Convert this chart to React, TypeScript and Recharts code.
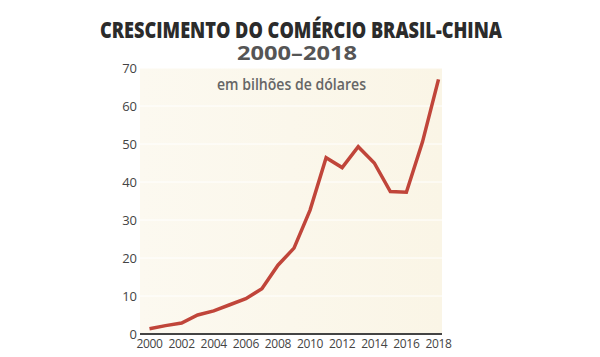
import React from 'react';
import {
  LineChart,
  Line,
  XAxis,
  YAxis,
  CartesianGrid
} from 'recharts';

const years = [
  '2000', '2001', '2002', '2003', '2004', '2005', '2006', '2007', '2008', '2009',
  '2010', '2011', '2012', '2013', '2014', '2015', '2016', '2017', '2018'
];
const trade = [
  1.4, 2.2, 2.9, 5.0, 6.1, 7.7, 9.3, 11.9, 18.1, 22.6,
  32.6, 46.4, 43.8, 49.3, 45.0, 37.5, 37.3, 50.5, 67.0
];
const yTicks = [0, 10, 20, 30, 40, 50, 60, 70];
const xTicks = ['2000', '2002', '2004', '2006', '2008', '2010', '2012', '2014', '2016', '2018'];

const title = 'CRESCIMENTO DO COMÉRCIO BRASIL-CHINA';
const subtitle = '2000–2018';
const unitLabel = 'em bilhões de dólares';

const data = years.map((year, i) => ({ year, value: trade[i] }));

const font = '"Open Sans", "Noto Sans", sans-serif';

export default function App() {
  return (
    <div style={{ position: 'absolute', left: 0, top: 0, width: 600, height: 357, background: '#fff' }}>
      <LineChart
        width={600}
        height={357}
        data={data}
        margin={{ top: 68, right: 158, left: 100, bottom: 0 }}
      >
        <defs>
          <linearGradient id="plotBg" x1="0" y1="0" x2="1" y2="0">
            <stop offset="0%" stopColor="#fcf9f0" />
            <stop offset="100%" stopColor="#faf5e6" />
          </linearGradient>
        </defs>
        <CartesianGrid
          vertical={false}
          stroke="#ffffff"
          strokeWidth={1}
          fill="url(#plotBg)"
          fillOpacity={1}
        />
        <XAxis
          dataKey="year"
          ticks={xTicks}
          interval={0}
          padding={{ left: 9.5, right: 3.5 }}
          height={23}
          tickLine={false}
          tickSize={0}
          tickMargin={5}
          axisLine={{ stroke: '#444', strokeWidth: 2 }}
          tick={{ fill: '#444', fontSize: 12, fontFamily: font, letterSpacing: -0.3 }}
        />
        <YAxis
          domain={[0, 70]}
          ticks={yTicks}
          width={40}
          axisLine={false}
          tickLine={false}
          tickSize={0}
          tickMargin={3}
          tick={{ fill: '#444', fontSize: 13, fontFamily: font }}
        />
        <Line
          type="linear"
          dataKey="value"
          stroke="#c0453a"
          strokeWidth={3.5}
          dot={false}
          isAnimationActive={false}
        />
      </LineChart>
      <svg
        width={600}
        height={100}
        style={{ position: 'absolute', left: 0, top: 0, pointerEvents: 'none' }}
      >
        <text
          x={100}
          y={38}
          textLength={402}
          lengthAdjust="spacingAndGlyphs"
          fontFamily={font}
          fontWeight={800}
          fontSize={22}
          fill="#2b2b2b"
        >
          {title}
        </text>
        <text
          x={237}
          y={60}
          textLength={120}
          lengthAdjust="spacingAndGlyphs"
          fontFamily={font}
          fontWeight={700}
          fontSize={20}
          fill="#555"
        >
          {subtitle}
        </text>
        <text
          x={217}
          y={90}
          textLength={149}
          lengthAdjust="spacingAndGlyphs"
          fontFamily={font}
          fontWeight={600}
          fontSize={16}
          fill="#666"
        >
          {unitLabel}
        </text>
      </svg>
    </div>
  );
}
